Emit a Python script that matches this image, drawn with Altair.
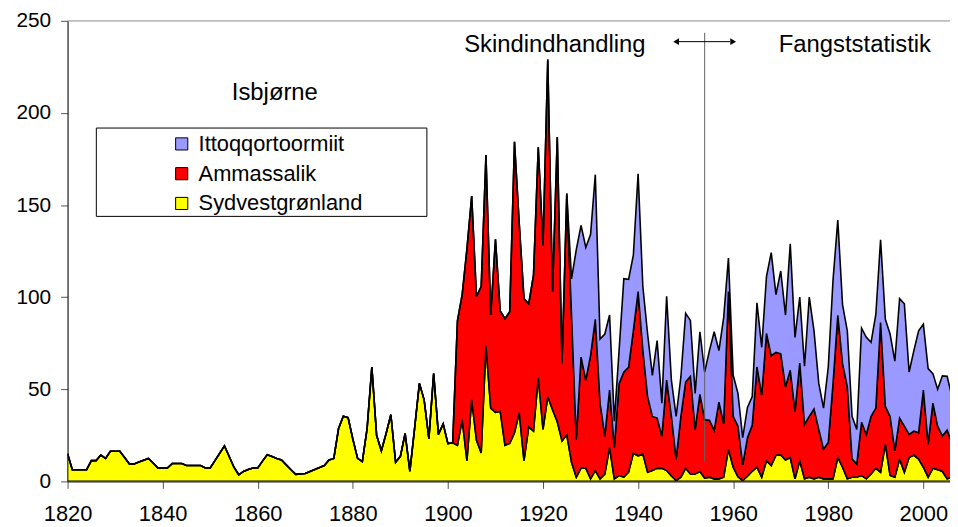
import altair as alt
import pandas as pd

# ---------------- data ----------------
years = list(range(1820, 2007))

# Sydvestgrønland, 1820 .. 2006
syd = [
    15, 6.3, 6.3, 6.3, 6.3, 11.3, 11.3, 14.3, 12.5, 16.4,
    16.4, 16.4, 13, 9.5, 9.5, 10.5, 11.5, 12.5, 10, 7.3,
    7.3, 7.3, 9.7, 9.7, 9.7, 8.6, 8.6, 8.6, 8.6, 7.3,
    7.3, 11.3, 15.3, 19.3, 13.5, 7.7, 3.6, 5.4, 6.5, 7.3,
    7.3, 11, 14.5, 13.5, 12.5, 11.6, 9, 6.3, 3.8, 4.1,
    4.3, 5.4, 6.5, 7.5, 8.6, 11.6, 12.5, 28.7, 35.4, 34.6,
    23, 12.5, 10.7, 28.6, 62.1, 25, 16.6, 26, 36.2, 10.4,
    13.6, 26, 5.5, 29, 53.2, 44.3, 23.2, 58.6, 25.5, 31.2,
    20.5, 21, 19.6, 33.4, 11.3, 44.3, 22.5, 15.4, 73.7, 39.8,
    37.5, 38, 19.6, 20.7, 26.4, 37.2, 11.3, 29.6, 27.3, 56.4,
    28.2, 46, 38.9, 32.4, 22, 25.3, 10.4, 2.3, 7.2, 7.2,
    1.4, 5.9, 1.4, 4, 18.4, 1.4, 3.2, 2.3, 5, 15.3,
    13.9, 14.8, 5, 5.9, 7.1, 7.1, 5.9, 2.9, 0.5, 2.3,
    7.1, 4, 4, 5.4, 1.8, 2.3, 1.4, 1.4, 2.3, 17.5,
    7.7, 2.5, 0.5, 2.8, 5.5, 7.7, 2.3, 11.2, 8.6, 14.3,
    14.3, 11.6, 13, 1.4, 11.2, 1.4, 2.3, 1.4, 2.3, 1.4,
    1.4, 1.4, 13, 7.7, 1.4, 2.3, 2.3, 3.2, 1.4, 4,
    7.1, 5, 20.2, 3.2, 2.3, 12.1, 5, 13, 14.3, 12.1,
    7.7, 2.3, 7.1, 6.4, 5.4, 1.4, 2.3,
]

# Ammassalik, 1902 .. 2006 (none before)
amm_start = 1902
amm = [
    67.5, 68, 115, 110.6, 78, 90.4, 103.5, 50.5,
    93.9, 54.5, 68.7, 71.4, 158, 102.8, 87.9, 66.8, 84.7, 124.9,
    100, 183, 63.9, 154.6, 42.2, 131, 79.6, 20.5, 60.3, 47.8,
    66.9, 82.1, 41.1, 20.6, 31.2, 17, 49.8, 57.1, 57, 66.4,
    89.1, 56.2, 41, 29.4, 27.3, 17.5, 49.1, 32.4, 11.6, 33,
    46.9, 53, 24.2, 41.9, 31.7, 30.9, 26.3, 41.6, 29.1, 85.6,
    27.6, 27.5, 8.5, 20.9, 25, 54.4, 44.6, 69.1, 59.7, 55.8,
    54.9, 39.8, 47.3, 36.6, 53, 29.5, 33, 37.9, 25.9, 16.1,
    19.7, 51.8, 77.1, 56.2, 50, 9.8, 7.2, 28.9, 24.1, 31.3,
    32.7, 81.2, 20.5, 32.1, 14.3, 22.3, 25, 12.5, 13, 14.3,
    41.9, 17.9, 35.4, 23.6, 19.2, 26.4, 18.7,
]

# Ittoqqortoormiit, 1926 .. 2006 (none before)
itt_start = 1926
itt = [
    20, 103, 71.5, 72,
    65.7, 78.5, 34.8, 55.4, 40.7, 14.3, 18, 50.6, 47.7, 41.1,
    64, 34.8, 34, 22.3, 42, 17.9, 45.5, 19.7, 23.2, 21.4,
    37.2, 30.4, 19.6, 33.9, 25.9, 37.8, 53.5, 28, 57.5, 18.2,
    22.3, 17.8, 14.7, 16.5, 15.5, 34.8, 25.9, 30.9, 55.9, 31.3,
    45, 38.9, 68.7, 40.2, 35.9, 31.6, 64.8, 42.4, 25, 22.3,
    41, 56.2, 51.8, 32.1, 30.3, 23.2, 18.7, 51.1, 52.7, 40.2,
    50.8, 45, 47.3, 44.7, 48.7, 64.8, 66.4, 33.9, 43.7, 55.3,
    35.7, 41, 16, 20, 32.7, 29.3, 25,
]

series_names = ["Ittoqqortoormiit", "Ammassalik", "Sydvestgrønland"]
series_colors = ["#9999FF", "#FF0000", "#FFFF00"]

x_ticks = [1820, 1840, 1860, 1880, 1900, 1920, 1940, 1960, 1980, 2000]
y_ticks = [0, 50, 100, 150, 200, 250]

# annotations
notes_text = ["Skindindhandling", "Fangststatistik", "Isbjørne"]
notes_year = [1922.5, 1985.6, 1863.6]
notes_value = [233.3, 233.3, 207.3]

divider_year = 1954
divider_low, divider_high = 10.8, 243.5
arrow_value = 238.7
arrow_left, arrow_right = 1948.0, 1960.0

# ---------------- table ----------------
rows = []
for i, yr in enumerate(years):
    a = amm[yr - amm_start] if yr >= amm_start else 0
    b = itt[yr - itt_start] if yr >= itt_start else 0
    rows.append({"year": yr, "series": "Sydvestgrønland", "value": syd[i], "ord": 0})
    rows.append({"year": yr, "series": "Ammassalik", "value": a, "ord": 1})
    rows.append({"year": yr, "series": "Ittoqqortoormiit", "value": b, "ord": 2})
df = pd.DataFrame(rows)

FONT = "Liberation Sans"
x_scale = alt.Scale(domain=[1820, 2005.6], nice=False, zero=False)
y_scale = alt.Scale(domain=[0, 250], nice=False, zero=True)

area = alt.Chart(df).mark_area(
    stroke="black", strokeWidth=1.6, opacity=1, clip=True, fillOpacity=1
).encode(
    x=alt.X("year:Q", scale=x_scale,
            axis=alt.Axis(values=x_ticks, format="d", title=None, grid=False,
                          tickSize=7, labelPadding=15, labelFontSize=22,
                          labelFont=FONT, labelColor="black",
                          domainColor="black", tickColor="#555555", labelFlush=False)),
    y=alt.Y("value:Q", stack="zero", scale=y_scale,
            axis=alt.Axis(values=y_ticks, title=None, grid=False, tickSize=7,
                          labelPadding=10, labelFontSize=21, labelFont=FONT,
                          labelColor="black", domainColor="black", tickColor="#555555")),
    color=alt.Color("series:N",
                    scale=alt.Scale(domain=series_names, range=series_colors),
                    legend=alt.Legend(orient="none", legendX=104, legendY=113,
                                      title=None, symbolType="square", symbolSize=150,
                                      symbolStrokeColor="black", symbolStrokeWidth=1,
                                      symbolOpacity=1, labelFontSize=22, labelFont=FONT,
                                      labelColor="black", labelOffset=6, rowPadding=8,
                                      labelLimit=0, padding=0)),
    order=alt.Order("ord:Q", sort="ascending"),
)

frame = alt.Chart(pd.DataFrame({"k": [0]})).mark_rect(
    fill="white", stroke="black", strokeWidth=1
).encode(x=alt.value(29), x2=alt.value(362), y=alt.value(108), y2=alt.value(197))

top_line = alt.Chart(pd.DataFrame({"value": [250]})).mark_rule(
    color="#A0A0A0", strokeWidth=1
).encode(y=alt.Y("value:Q", scale=y_scale))

divider = alt.Chart(pd.DataFrame({"year": [divider_year], "value": [divider_low],
                                  "value2": [divider_high]})).mark_rule(
    color="#606060", strokeWidth=1
).encode(x=alt.X("year:Q", scale=x_scale), y=alt.Y("value:Q", scale=y_scale), y2="value2:Q")

arrow_line = alt.Chart(pd.DataFrame({"year": [arrow_left + 0.6], "year2": [arrow_right - 0.6],
                                     "value": [arrow_value]})).mark_rule(
    color="black", strokeWidth=1
).encode(x=alt.X("year:Q", scale=x_scale), x2="year2:Q", y=alt.Y("value:Q", scale=y_scale))

arrow_heads = alt.Chart(pd.DataFrame({"year": [arrow_left, arrow_right],
                                      "value": [arrow_value, arrow_value],
                                      "shape": ["triangle-left", "triangle-right"]})).mark_point(
    filled=True, color="black", size=45, opacity=1
).encode(x=alt.X("year:Q", scale=x_scale), y=alt.Y("value:Q", scale=y_scale),
         shape=alt.Shape("shape:N", scale=None, legend=None))

notes = alt.Chart(pd.DataFrame({"year": notes_year, "value": notes_value,
                                "label": notes_text})).mark_text(
    font=FONT, fontSize=24, align="center", baseline="alphabetic", color="black"
).encode(x=alt.X("year:Q", scale=x_scale), y=alt.Y("value:Q", scale=y_scale), text="label:N")

chart = alt.layer(frame, area, top_line, divider, arrow_line, arrow_heads, notes).properties(
    width=889, height=464,
    padding={"left": 60, "top": 11, "right": 0, "bottom": 45},
    autosize="none",
).configure_view(stroke=None).configure(background="white")

chart.save("out.html", embed_options={"renderer": "svg", "actions": False})
